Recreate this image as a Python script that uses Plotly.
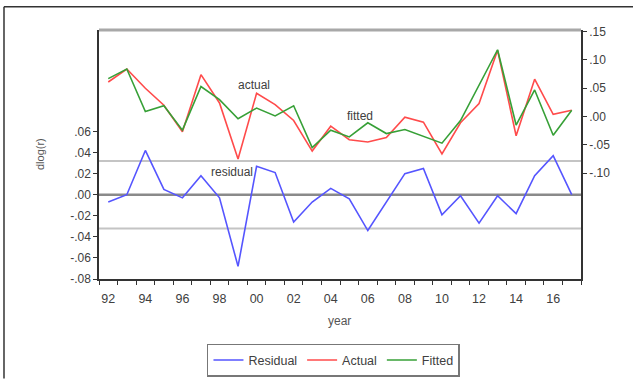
import plotly.graph_objects as go

# Annual observations 1992-2017
years = list(range(1992, 2018))

actual = [0.061, 0.084, 0.050, 0.020, -0.027, 0.074, 0.024, -0.075, 0.041, 0.021,
          -0.007, -0.061, -0.017, -0.041, -0.045, -0.037, -0.001, -0.010, -0.066, -0.011,
          0.023, 0.117, -0.034, 0.066, 0.004, 0.011]
fitted = [0.067, 0.084, 0.009, 0.019, -0.024, 0.053, 0.030, -0.004, 0.015, 0.001,
          0.019, -0.055, -0.024, -0.036, -0.011, -0.030, -0.023, -0.035, -0.047, -0.007,
          0.055, 0.118, -0.015, 0.047, -0.033, 0.011]
residual = [-0.007, 0.000, 0.042, 0.005, -0.003, 0.018, -0.003, -0.068, 0.027, 0.021,
            -0.026, -0.007, 0.006, -0.004, -0.034, -0.007, 0.020, 0.025, -0.019, -0.001,
            -0.027, -0.001, -0.018, 0.018, 0.037, 0.000]
resid_se = 0.032

left_ticks = [-0.08, -0.06, -0.04, -0.02, 0.0, 0.02, 0.04, 0.06]
left_labels = ["-.08", "-.06", "-.04", "-.02", ".00", ".02", ".04", ".06"]
right_ticks = [-0.10, -0.05, 0.0, 0.05, 0.10, 0.15]
right_labels = ["-.10", "-.05", ".00", ".05", ".10", ".15"]
label_years = list(range(1992, 2017, 2))
label_text = [f"{y % 100:02d}" for y in label_years]

BLUE = "rgb(85,85,255)"
RED = "rgb(255,75,75)"
GREEN = "rgb(55,160,55)"
FONT = "Liberation Sans, Arial, sans-serif"
TXT = "#404040"

fig = go.Figure()
fig.add_trace(go.Scatter(x=years, y=residual, name="Residual", mode="lines",
                         line=dict(color=BLUE, width=1.6), yaxis="y"))
fig.add_trace(go.Scatter(x=years, y=actual, name="Actual", mode="lines",
                         line=dict(color=RED, width=1.6), yaxis="y2"))
fig.add_trace(go.Scatter(x=years, y=fitted, name="Fitted", mode="lines",
                         line=dict(color=GREEN, width=1.6), yaxis="y2"))

xr = [1991.5, 2017.5]
half_years = [y + 0.5 for y in range(1991, 2018)]

shapes = [
    # residual zero line and +/- one standard error bands
    dict(type="line", xref="paper", x0=0, x1=1, yref="y", y0=0, y1=0,
         line=dict(color="#8a8a8a", width=2.5), layer="below"),
    dict(type="line", xref="paper", x0=0, x1=1, yref="y", y0=resid_se, y1=resid_se,
         line=dict(color="#c4c4c4", width=2), layer="below"),
    dict(type="line", xref="paper", x0=0, x1=1, yref="y", y0=-resid_se, y1=-resid_se,
         line=dict(color="#c4c4c4", width=2), layer="below"),
    # top frame of the plot area
    dict(type="line", xref="paper", x0=0, x1=1, yref="paper", y0=1, y1=1,
         line=dict(color="#a8a8a8", width=3)),
    # outer page frame (left and top)
    dict(type="line", xref="paper", x0=-0.1971, x1=-0.1971, yref="paper", y0=1.0934, y1=-0.40,
         line=dict(color="#333333", width=1.5)),
    dict(type="line", xref="paper", x0=-0.1971, x1=1.11, yref="paper", y0=1.0934, y1=1.0934,
         line=dict(color="#333333", width=1.5)),
]

annotations = [
    dict(text="actual", x=1999.84, y=0.0553, xref="x", yref="y2", showarrow=False,
         font=dict(family=FONT, size=12, color=TXT)),
    dict(text="fitted", x=2005.6, y=0.001, xref="x", yref="y2", showarrow=False,
         font=dict(family=FONT, size=12, color=TXT)),
    dict(text="residual", x=1998.66, y=0.022, xref="x", yref="y", showarrow=False,
         font=dict(family=FONT, size=12, color=TXT)),
    dict(text="dlog(r)", x=-0.1224, y=0.502, xref="paper", yref="paper", showarrow=False,
         xanchor="center", yanchor="middle",
         textangle=-90, font=dict(family=FONT, size=11, color="#555555")),
    dict(text="year", x=0.498, y=-0.167, xref="paper", yref="paper", showarrow=False,
         xanchor="center", yanchor="middle",
         font=dict(family=FONT, size=12, color="#555555")),
]

fig.update_layout(
    width=633, height=389,
    margin=dict(l=99, r=52, t=30, b=102),
    paper_bgcolor="white", plot_bgcolor="white",
    font=dict(family=FONT, size=12, color=TXT),
    showlegend=True,
    legend=dict(orientation="h", x=0.224, y=-0.2607, xanchor="left", yanchor="top",
                bordercolor="#777777", borderwidth=1.5, bgcolor="white",
                font=dict(family=FONT, size=12.5, color=TXT),
                itemwidth=30, tracegroupgap=0),
    xaxis=dict(range=xr, tickvals=half_years, ticktext=[""] * len(half_years),
               ticks="outside", ticklen=4, tickcolor="#333333", tickwidth=1.2,
               showline=True, linecolor="#333333", linewidth=1.5,
               showgrid=False, zeroline=False),
    xaxis2=dict(range=xr, overlaying="x", side="bottom", anchor="y",
                tickvals=label_years, ticktext=label_text,
                ticks="outside", ticklen=8, tickcolor="rgba(0,0,0,0)",
                showline=False, showgrid=False, zeroline=False,
                tickfont=dict(family=FONT, size=12.5, color=TXT)),
    yaxis=dict(range=[-0.08, 0.1563], tickvals=left_ticks, ticktext=left_labels,
               ticks="outside", ticklen=4, tickcolor="#333333", tickwidth=1.2,
               showline=True, linecolor="#333333", linewidth=1.5,
               showgrid=False, zeroline=False,
               tickfont=dict(family=FONT, size=12, color=TXT)),
    yaxis2=dict(range=[-0.287, 0.1529], tickvals=right_ticks, ticktext=right_labels,
                overlaying="y", side="right", anchor="x",
                ticks="outside", ticklen=4, tickcolor="#333333", tickwidth=1.2,
                showline=True, linecolor="#333333", linewidth=1.5,
                showgrid=False, zeroline=False,
                tickfont=dict(family=FONT, size=12, color=TXT)),
    shapes=shapes,
    annotations=annotations,
)

# invisible trace so the label axis is rendered
fig.add_trace(go.Scatter(x=[xr[0]], y=[0], xaxis="x2", yaxis="y", mode="markers",
                         marker=dict(opacity=0), showlegend=False, hoverinfo="skip"))

fig.write_html("out.html")
